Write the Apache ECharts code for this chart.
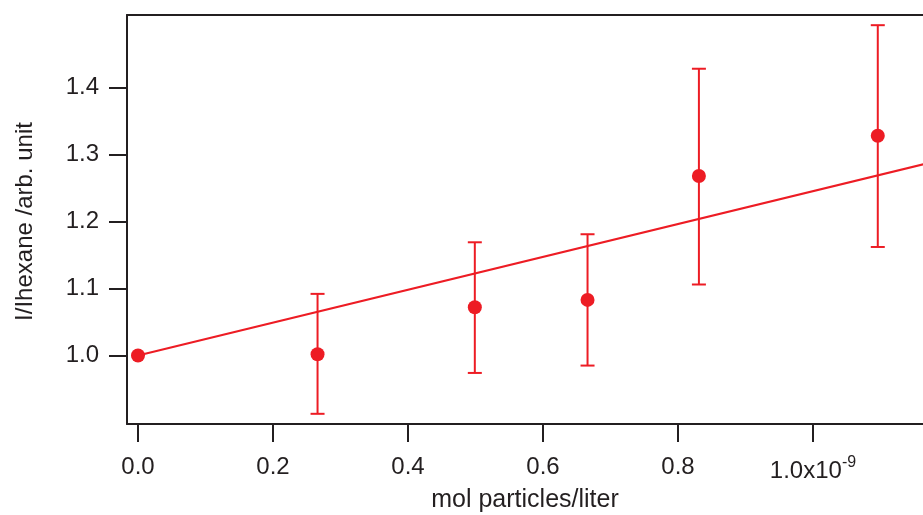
<!DOCTYPE html>
<html>
<head>
<meta charset="utf-8">
<script src="https://cdn.jsdelivr.net/npm/echarts@6/dist/echarts.min.js"></script>
<style>html,body{margin:0;padding:0;background:#fff}#c{width:923px;height:515px}</style>
</head>
<body>
<div id="c"></div>
<script>
// concentration in units of 1e-9 mol particles/liter
const xValues = [0.0, 0.266, 0.499, 0.666, 0.831, 1.096];
const yValues = [1.000, 1.002, 1.072, 1.083, 1.268, 1.328];
const errLow  = [1.000, 0.913, 0.974, 0.985, 1.106, 1.162];
const errHigh = [1.000, 1.092, 1.169, 1.181, 1.428, 1.493];
const fitLine = [[0.0, 1.000], [1.17, 1.287]];
const xTicks = [0.0, 0.2, 0.4, 0.6, 0.8, 1.0];
const yTicks = [1.0, 1.1, 1.2, 1.3, 1.4];

const RED = '#ed1c24';
const AX = '#231f20';
const FONT = 'Liberation Sans';

const points = xValues.map((x, i) => [x, yValues[i]]);
const bars = xValues.map((x, i) => [x, errLow[i], errHigh[i]]);

const X_MIN = -0.0163, X_MAX = 1.163;

const chart = echarts.init(document.getElementById('c'), null, {renderer: 'canvas'});
chart.setOption({
  animation: false,
  backgroundColor: '#fff',
  grid: {left: 127, top: 15, right: 0, bottom: 91, show: false, outerBoundsMode: 'none', containLabel: false},
  xAxis: [{
    type: 'value', min: X_MIN, max: X_MAX,
    name: 'mol particles/liter', nameLocation: 'middle', nameGap: 63,
    nameTextStyle: {fontFamily: FONT, fontSize: 25, color: AX},
    axisLine: {show: true, onZero: false, lineStyle: {color: AX, width: 2}},
    axisTick: {show: true, length: 18, lineStyle: {color: AX, width: 2}, customValues: xTicks},
    splitLine: {show: false},
    axisLabel: {
      customValues: xTicks, margin: 31, color: AX, fontFamily: FONT, fontSize: 24,
      formatter: v => Math.abs(v - 1) < 1e-9 ? '{b|1.0x10}{s|-9}' : v.toFixed(1),
      rich: {b: {fontFamily: FONT, fontSize: 24, color: AX}, s: {fontFamily: FONT, fontSize: 16, color: AX, padding: [0, 0, 16, 0]}}
    }
  }, {
    type: 'value', position: 'top', min: X_MIN, max: X_MAX,
    axisLine: {show: true, onZero: false, lineStyle: {color: AX, width: 2}},
    axisTick: {show: false}, axisLabel: {show: false}, splitLine: {show: false}
  }],
  yAxis: {
    type: 'value', min: 0.8978, max: 1.5082,
    name: 'I/Ihexane /arb. unit', nameLocation: 'middle', nameGap: 90,
    nameTextStyle: {fontFamily: FONT, fontSize: 24, color: AX, padding: [0, 4, 0, 0]},
    axisLine: {show: true, onZero: false, lineStyle: {color: AX, width: 2}},
    axisTick: {show: true, length: 18, lineStyle: {color: AX, width: 2}, customValues: yTicks},
    splitLine: {show: false},
    axisLabel: {customValues: yTicks, margin: 28, color: AX, fontFamily: FONT, fontSize: 24, formatter: v => v.toFixed(1)}
  },
  series: [
    {
      type: 'line', data: fitLine, symbol: 'none', clip: true,
      lineStyle: {color: RED, width: 2}, z: 2
    },
    {
      type: 'custom', data: bars, z: 3, clip: true,
      renderItem: (params, api) => {
        const x = api.value(0);
        const lo = api.coord([x, api.value(1)]);
        const hi = api.coord([x, api.value(2)]);
        if (Math.abs(lo[1] - hi[1]) < 1) return null;
        const w = 7;
        const st = {stroke: RED, lineWidth: 2};
        return {type: 'group', children: [
          {type: 'line', shape: {x1: lo[0], y1: lo[1], x2: hi[0], y2: hi[1]}, style: st},
          {type: 'line', shape: {x1: lo[0] - w, y1: lo[1], x2: lo[0] + w, y2: lo[1]}, style: st},
          {type: 'line', shape: {x1: hi[0] - w, y1: hi[1], x2: hi[0] + w, y2: hi[1]}, style: st}
        ]};
      }
    },
    {
      type: 'scatter', data: points, symbol: 'circle', symbolSize: 14,
      itemStyle: {color: RED, opacity: 1}, z: 4
    }
  ]
});
</script>
</body>
</html>
